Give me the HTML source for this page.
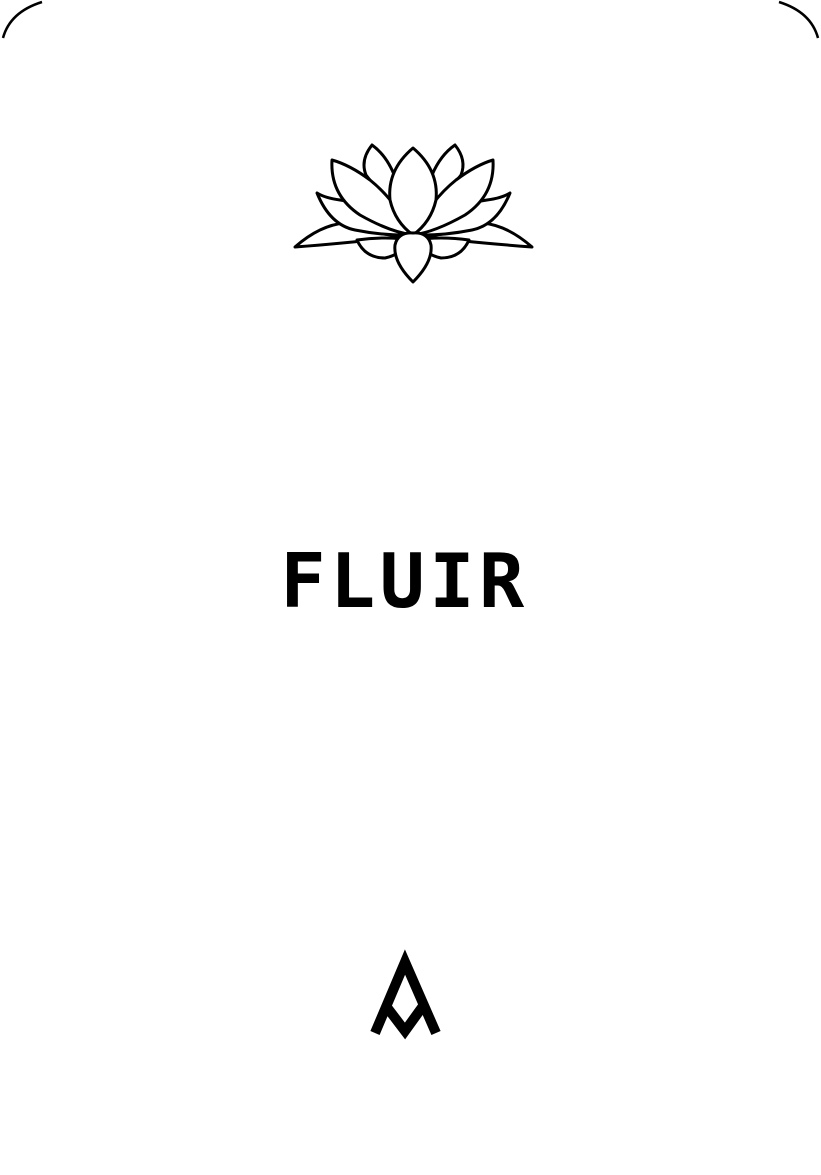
<!DOCTYPE html>
<html><head><meta charset="utf-8"><style>
html,body{margin:0;padding:0;background:#fff;}
body{width:821px;height:1175px;position:relative;overflow:hidden;}
#title{position:absolute;left:0;width:821px;top:531px;text-align:center;font-family:"DejaVu Sans Mono","Liberation Mono",monospace;font-weight:bold;font-size:75px;letter-spacing:4.5px;line-height:100px;color:#000;padding-right:12px;box-sizing:border-box;}
svg{position:absolute;left:0;top:0;}
</style></head><body>
<svg width="821" height="1175">
<g fill="none" stroke="#000" stroke-width="2.5">
<path d="M3,38 Q10,12 42,2"/>
<path d="M818,38 Q811,12 779,2"/>
</g>
<g fill="#fff" stroke="#000" stroke-width="3" stroke-linejoin="round">
<path d="M295,247 Q320,225 345,223 Q380,236 405,236 Q360,242 295,247Z"/>
<path d="M532,247 Q507,225 482,223 Q447,236 421,236 Q466,242 532,247Z"/>
<path d="M372,145 Q360,160 366,175 L405,225 Q400,165 372,145Z"/>
<path d="M455,145 Q467,160 461,175 L421,225 Q426,165 455,145Z"/>
<path d="M317,193 Q330,225 355,230 Q385,236 413,235 Q380,205 340,200 Q325,198 317,193Z"/>
<path d="M510,193 Q497,225 472,230 Q442,236 413,235 Q447,205 487,200 Q502,198 510,193Z"/>
<path d="M332,160 Q330,195 360,215 Q390,232 413,235 Q395,200 370,180 Q350,165 332,160Z"/>
<path d="M493,160 Q495,195 465,215 Q435,232 413,235 Q431,200 456,180 Q476,165 493,160Z"/>
<path d="M413,148 Q387,170 390,200 Q395,222 413,235 Q431,222 436,200 Q439,170 413,148Z"/>
<path d="M357,240 Q365,258 385,258 Q400,255 413,240 Q385,236 357,240Z"/>
<path d="M469,240 Q461,258 441,258 Q426,255 413,240 Q441,236 469,240Z"/>
<path d="M413,233 Q398,232 395,245 Q393,262 413,282 Q433,262 431,245 Q428,232 413,233Z"/>
</g>
<g fill="none" stroke="#000" stroke-width="10" stroke-linejoin="miter">
<polyline points="375,1033 405,962 436,1033"/>
<polyline points="386,1006 405,1031 423,1006"/>
</g>
</svg>
<div id="title">FLUIR</div>
</body></html>
